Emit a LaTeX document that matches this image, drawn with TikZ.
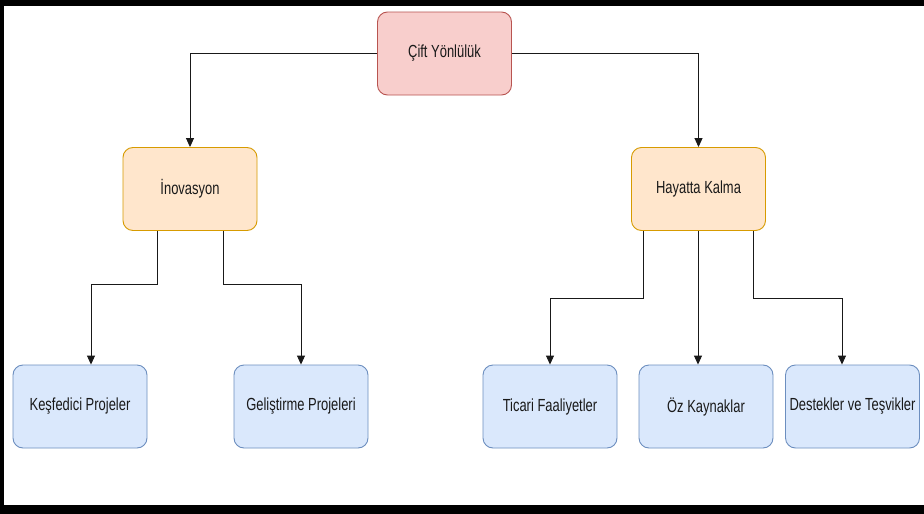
\documentclass[tikz,border=0pt]{standalone}
\usepackage{fontspec}
\setmainfont{Liberation Sans}
\newfontfamily\condfont[FakeStretch=0.74]{Liberation Sans}
\usetikzlibrary{arrows.meta}
\definecolor{redfill}{HTML}{F8CECC}
\definecolor{redline}{HTML}{B85450}
\definecolor{orfill}{HTML}{FFE6CC}
\definecolor{orline}{HTML}{D79B00}
\definecolor{blfill}{HTML}{DAE8FC}
\definecolor{blline}{HTML}{6C8EBF}
\tikzset{
  box/.style={rounded corners=10pt, line width=0.9pt, minimum width=134pt, minimum height=83pt,
    inner sep=0pt, font=\condfont\fontsize{17.5}{20}\selectfont, text=black!90},
  rootbox/.style={box, fill=redfill, draw=redline},
  midbox/.style={box, fill=orfill, draw=orline},
  leafbox/.style={box, fill=blfill, draw=blline},
  conn/.style={line width=0.9pt, draw=black!90, -{Triangle[length=9pt,width=8pt]}},
}
\begin{document}
\begin{tikzpicture}[x=1pt,y=-1pt]
\useasboundingbox (0,0) rectangle (924,514);
\fill[white] (0,0) rectangle (924,514);
% frame
\fill[black] (0,0) rectangle (924,6);
\fill[black] (0,0) rectangle (4,514);
\fill[black] (0,505) rectangle (924,514);

\node[rootbox] (root) at (444.5,53.5) {Çift Yönlülük};
\node[midbox] (inov) at (190,189) {İnovasyon};
\node[midbox] (hay) at (698.5,189) {Hayatta Kalma};
\node[leafbox] (kesf) at (80,406.5) {Keşfedici Projeler};
\node[leafbox] (gel) at (301,406.5) {Geliştirme Projeleri};
\node[leafbox] (tic) at (550,406.5) {Ticari Faaliyetler};
\node[leafbox] (oz) at (706,406.5) {Öz Kaynaklar};
\node[leafbox] (des) at (852.5,406.5) {Destekler ve Teşvikler};

\draw[conn] (root.west) -| (inov.north);
\draw[conn] (root.east) -| (hay.north);

\draw[conn] (inov.south -| 157,0) |- (91,284) -- (kesf.north -| 91,0);
\draw[conn] (inov.south -| 223,0) |- (301,284) -- (gel.north);

\draw[conn] (hay.south -| 643,0) |- (550,298) -- (tic.north);
\draw[conn] (hay.south -| 698,0) -- (oz.north -| 698,0);
\draw[conn] (hay.south -| 753,0) |- (842,298) -- (des.north -| 842,0);
\end{tikzpicture}
\end{document}
